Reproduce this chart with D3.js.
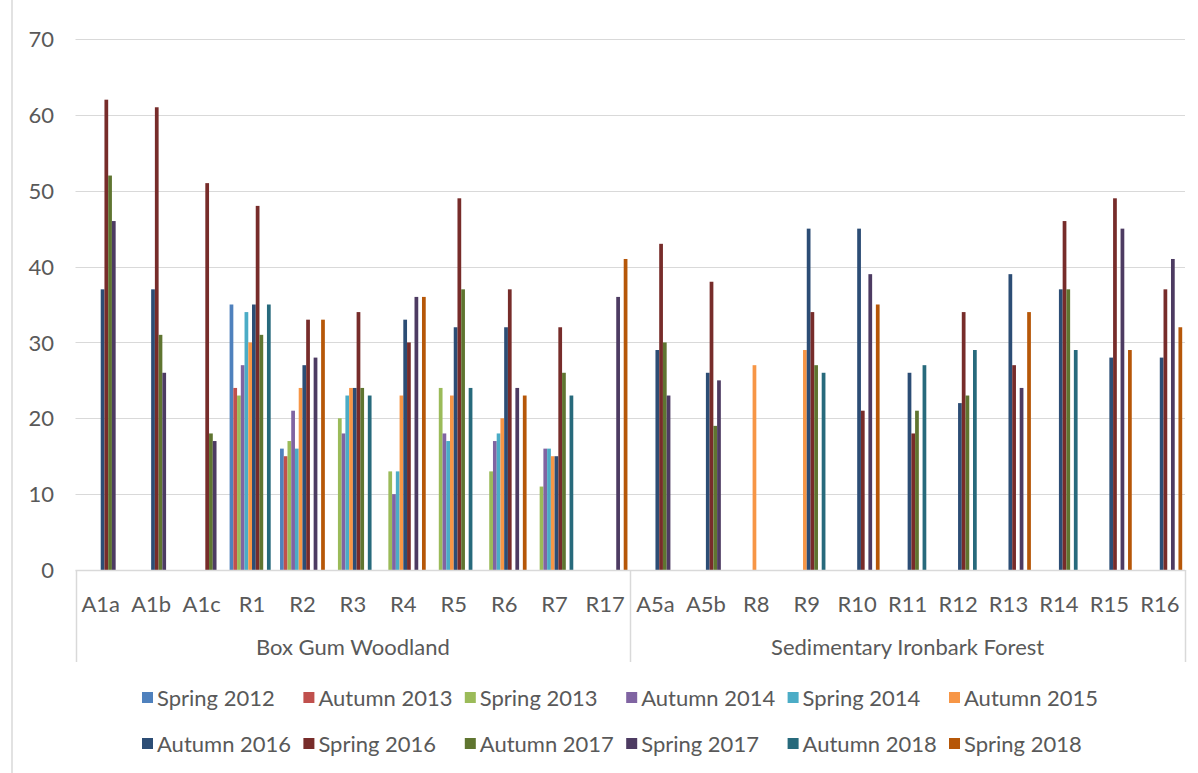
<!DOCTYPE html>
<html>
<head>
<meta charset="utf-8">
<script src="https://cdn.jsdelivr.net/npm/d3@7"></script>
<style>
  html, body { margin: 0; padding: 0; background: #fff; }
  svg text { font-family: Lato, "Open Sans", sans-serif; fill: #595959; }
</style>
</head>
<body>
<svg id="chart" width="1198" height="773"></svg>
<script>
// Sites (categories) and their vegetation community groups
const categories = ["A1a","A1b","A1c","R1","R2","R3","R4","R5","R6","R7","R17",
                    "A5a","A5b","R8","R9","R10","R11","R12","R13","R14","R15","R16"];
const groupNames = ["Box Gum Woodland", "Sedimentary Ironbark Forest"];
const groupSizes = [11, 11];

// Survey rounds
const seriesNames = ["Spring 2012","Autumn 2013","Spring 2013","Autumn 2014","Spring 2014","Autumn 2015",
                     "Autumn 2016","Spring 2016","Autumn 2017","Spring 2017","Autumn 2018","Spring 2018"];
const seriesColors = ["#4F81BD","#C0504D","#9BBB59","#8064A2","#4BACC6","#F79646",
                      "#2C4D75","#772C2A","#5F7530","#4D3B62","#276A7C","#B65708"];

// Values per survey round, one per site (0 = not surveyed)
const spring2012 = [0,0,0,35,16,0,0,0,0,0,0, 0,0,0,0,0,0,0,0,0,0,0];
const autumn2013 = [0,0,0,24,15,0,0,0,0,0,0, 0,0,0,0,0,0,0,0,0,0,0];
const spring2013 = [0,0,0,23,17,20,13,24,13,11,0, 0,0,0,0,0,0,0,0,0,0,0];
const autumn2014 = [0,0,0,27,21,18,10,18,17,16,0, 0,0,0,0,0,0,0,0,0,0,0];
const spring2014 = [0,0,0,34,16,23,13,17,18,16,0, 0,0,0,0,0,0,0,0,0,0,0];
const autumn2015 = [0,0,0,30,24,24,23,23,20,15,0, 0,0,27,29,0,0,0,0,0,0,0];
const autumn2016 = [37,37,0,35,27,24,33,32,32,15,0, 29,26,0,45,45,26,22,39,37,28,28];
const spring2016 = [62,61,51,48,33,34,30,49,37,32,0, 43,38,0,34,21,18,34,27,46,49,37];
const autumn2017 = [52,31,18,31,0,24,0,37,0,26,0, 30,19,0,27,0,21,23,0,37,0,0];
const spring2017 = [46,26,17,0,28,0,36,0,24,0,36, 23,25,0,0,39,0,0,24,0,45,41];
const autumn2018 = [0,0,0,35,0,23,0,24,0,23,0, 0,0,0,26,0,27,29,0,29,0,0];
const spring2018 = [0,0,0,0,33,0,36,0,23,0,41, 0,0,0,0,35,0,0,34,0,29,32];

const seriesValues = [spring2012, autumn2013, spring2013, autumn2014, spring2014, autumn2015,
                      autumn2016, spring2016, autumn2017, spring2017, autumn2018, spring2018];

const yTicks = [0,10,20,30,40,50,60,70];

const svg = d3.select("#chart");
const plot = { left: 75.5, right: 1185, top: 39, bottom: 570 };
const gridColor = "#D9D9D9";
const fontSize = 22;

// Outer chart frame (left edge)
svg.append("line").attr("x1", 12).attr("x2", 12).attr("y1", 0).attr("y2", 773)
  .attr("stroke", gridColor).attr("stroke-width", 1.5);

const x = d3.scaleBand().domain(categories).range([plot.left, plot.right]).padding(0);
const xInner = d3.scaleBand().domain(seriesNames).range([0, x.bandwidth()])
  .paddingInner(0).paddingOuter(0.75);
const y = d3.scaleLinear().domain([0, 70]).range([plot.bottom, plot.top]);

// Horizontal gridlines
svg.append("g").selectAll("line").data(yTicks.filter(t => t > 0)).join("line")
  .attr("x1", plot.left).attr("x2", plot.right)
  .attr("y1", d => Math.round(y(d)) + 0.5).attr("y2", d => Math.round(y(d)) + 0.5)
  .attr("stroke", gridColor).attr("stroke-width", 1);

// Y axis labels
const yAxis = d3.axisLeft(y).tickValues(yTicks).tickSize(0).tickPadding(0);
const yg = svg.append("g").attr("transform", `translate(54,0)`).call(yAxis);
yg.select(".domain").remove();
yg.selectAll("text").attr("font-size", fontSize).attr("font-family", "Lato, sans-serif")
  .attr("fill", "#595959").attr("dy", "0.35em");

// Bars
const barData = [];
seriesValues.forEach((vals, si) => {
  vals.forEach((v, ci) => {
    if (v > 0) barData.push({ series: seriesNames[si], color: seriesColors[si], cat: categories[ci], value: v });
  });
});
svg.append("g").selectAll("rect").data(barData).join("rect")
  .attr("x", d => x(d.cat) + xInner(d.series))
  .attr("width", xInner.bandwidth())
  .attr("y", d => y(d.value))
  .attr("height", d => y(0) - y(d.value))
  .attr("fill", d => d.color);

// Category axis line
svg.append("line").attr("x1", plot.left).attr("x2", plot.right)
  .attr("y1", plot.bottom + 0.5).attr("y2", plot.bottom + 0.5)
  .attr("stroke", gridColor).attr("stroke-width", 1.5);

// Category labels
const xAxis = d3.axisBottom(x).tickSize(0).tickPadding(0);
const xg = svg.append("g").attr("transform", `translate(0,${plot.bottom})`).call(xAxis);
xg.select(".domain").remove();
xg.selectAll("text").attr("font-size", fontSize).attr("font-family", "Lato, sans-serif")
  .attr("fill", "#595959").attr("y", 34).attr("dy", "0.35em");

// Group dividers and group labels
const groupBottom = 662;
let start = 0;
const bounds = [plot.left];
groupSizes.forEach(n => { start += n; bounds.push(start < categories.length ? x(categories[start]) : plot.right); });
svg.append("g").selectAll("line").data(bounds).join("line")
  .attr("x1", d => Math.round(d) + 0.5).attr("x2", d => Math.round(d) + 0.5)
  .attr("y1", plot.bottom).attr("y2", groupBottom)
  .attr("stroke", gridColor).attr("stroke-width", 1.5);
svg.append("g").selectAll("text").data(groupNames).join("text")
  .attr("x", (d, i) => (bounds[i] + bounds[i + 1]) / 2)
  .attr("y", 647).attr("dy", "0.35em").attr("text-anchor", "middle")
  .attr("font-size", fontSize).text(d => d);

// Legend: two rows of six columns
const legendCols = 6, colWidth = 161.4, legendX = 142, legendRows = [698, 744];
const lg = svg.append("g").selectAll("g").data(seriesNames).join("g")
  .attr("transform", (d, i) => `translate(${legendX + (i % legendCols) * colWidth},${legendRows[Math.floor(i / legendCols)]})`);
lg.append("rect").attr("x", 0).attr("y", -6).attr("width", 11).attr("height", 11)
  .attr("fill", (d, i) => seriesColors[i]);
lg.append("text").attr("x", 15).attr("y", 0).attr("dy", "0.35em")
  .attr("font-size", fontSize).text(d => d);
</script>
</body>
</html>
